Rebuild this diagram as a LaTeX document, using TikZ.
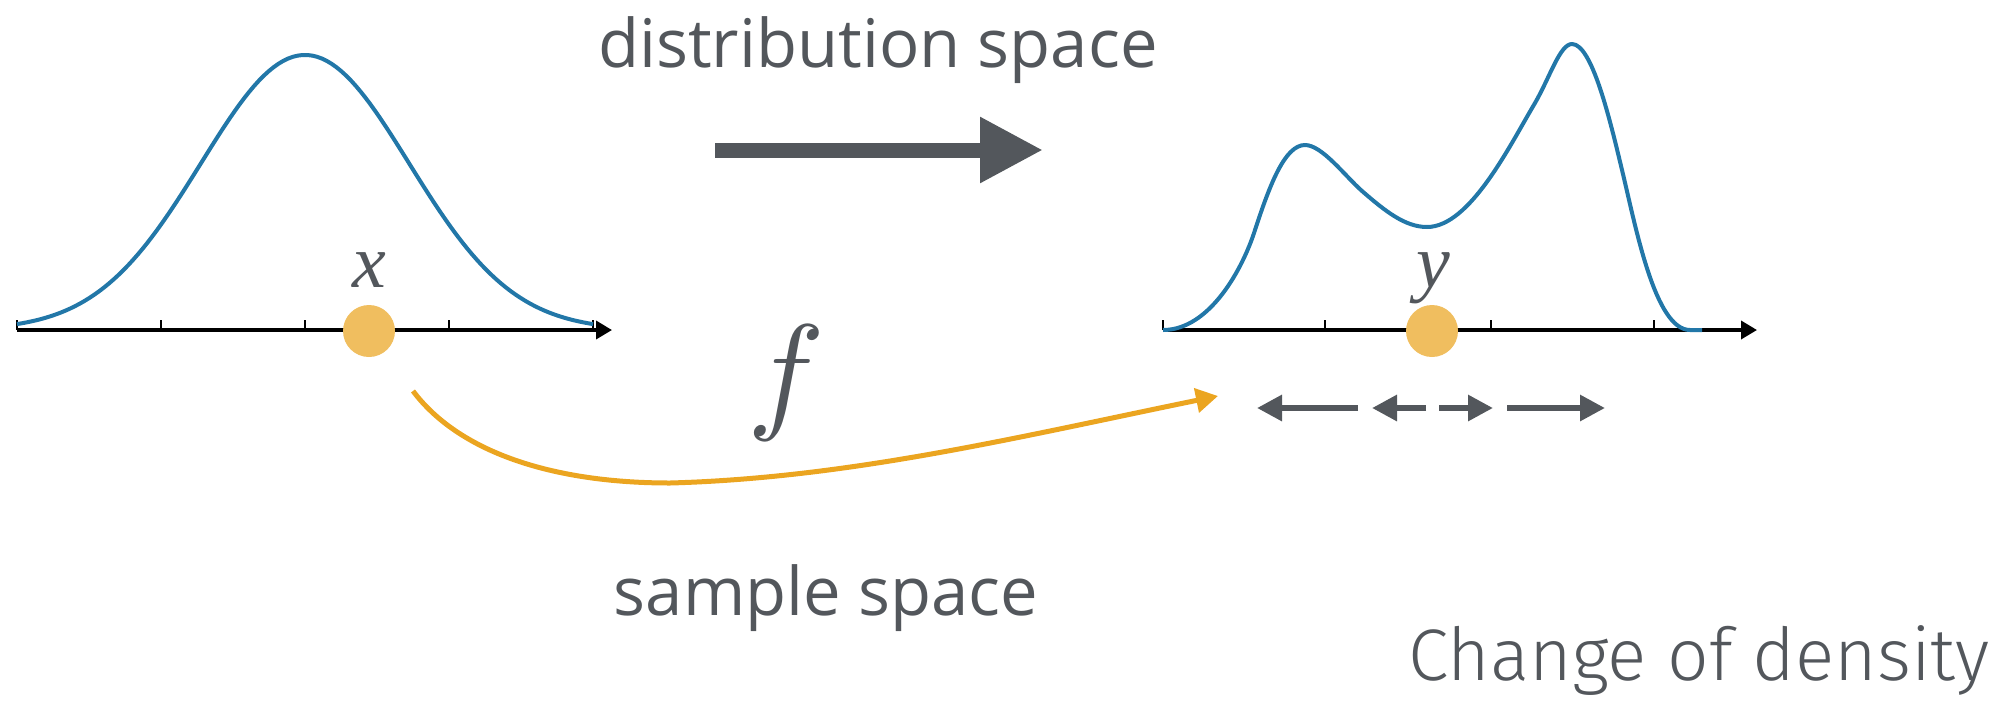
\documentclass[tikz,border=0pt]{standalone}
\usepackage{fontspec}
\setmainfont{Open Sans}
\newfontfamily\lightfont{Fira Sans Light}
\newfontfamily\varfont{Liberation Serif}
\usetikzlibrary{arrows.meta,positioning}

\definecolor{inkgray}{HTML}{53575C}
\definecolor{curveblue}{HTML}{2277A8}
\definecolor{dotyellow}{HTML}{F0BE5F}
\definecolor{mapyellow}{HTML}{EBA520}

\begin{document}
\begin{tikzpicture}[
        x=0.5pt, y=-0.5pt,
        axis/.style={line width=1.8pt, -{Triangle[length=8pt,width=9pt]}},
        axistick/.style={line width=1pt},
        densitycurve/.style={curveblue, line width=2pt, line join=round},
        sampledot/.style={circle, fill=dotyellow, inner sep=0pt, minimum size=26pt},
        spacelabel/.style={text=inkgray, font=\fontsize{33.5}{40}\selectfont, anchor=base},
        varlabel/.style={text=inkgray, font=\varfont\itshape\fontsize{38}{46}\selectfont, anchor=base, inner sep=0pt},
        pusharrow/.style={inkgray, line width=7.5pt, -{Triangle[length=31.5pt,width=31pt]}},
        maparrow/.style={mapyellow, line width=2.5pt, -{Triangle[length=11pt,width=12pt]}},
        spread/.style={inkgray, line width=3pt, -{Triangle[length=12.5pt,width=12.5pt]}}
    ]
    \useasboundingbox (0,0) rectangle (2008,703);

    % source density
    \coordinate (xaxis start) at (17,330);
    \coordinate (xaxis end) at (612,330);
    \draw[axis] (xaxis start) -- (xaxis end);
    \foreach \t in {17,161,305,449,593}
        \draw[axistick] (\t,330) -- (\t,320);
    \draw[densitycurve] plot[domain=17:593, samples=120] (\x, {330-275*exp(-0.5*((\x-305)/104)^2)});
    \node[sampledot] (xdot) at (369,331) {};
    \node[varlabel] (xlabel) at (369,287) {x};

    % target density
    \coordinate (yaxis start) at (1163,330);
    \coordinate (yaxis end) at (1757,330);
    \draw[axis] (yaxis start) -- (yaxis end);
    \foreach \t in {1163,1325,1491,1654}
        \draw[axistick] (\t,330) -- (\t,320);
    \draw[densitycurve] (1163,330)
        .. controls (1210,330) and (1243,268) .. (1255,230)
        .. controls (1270,184) and (1285,145) .. (1305,145)
        .. controls (1322,145) and (1345,176) .. (1362,191)
        .. controls (1385,211) and (1405,227) .. (1427,227)
        .. controls (1470,227) and (1510,145) .. (1535,103)
        .. controls (1550,77) and (1560,44) .. (1572,44)
        .. controls (1592,44) and (1610,120) .. (1622,170)
        .. controls (1636,228) and (1655,330) .. (1690,330) -- (1702,330);
    \node[sampledot] (ydot) at (1432,331) {};
    \node[varlabel] (ylabel) at (1433,287) {y};

    % distribution space
    \node[spacelabel] (distspace) at (878,67) {distribution space};
    \coordinate (push start) at (715,150);
    \coordinate (push end) at (1043,150);
    \draw[pusharrow] (push start) -- (push end);

    % sample space
    \node[text=inkgray, anchor=base, inner sep=0pt, scale=6.5] (fmap) at (786,415) {$f$};
    \coordinate (map start) at (413,391);
    \coordinate (map end) at (1218,396);
    \draw[maparrow] (map start) .. controls (458,451) and (550,483) .. (670,483)
        .. controls (850,478) and (1018,437) .. (map end);
    \foreach \from/\to [count=\i] in {1358/1257, 1426/1372, 1439/1493, 1507/1605} {
        \coordinate (spread\i a) at (\from,408);
        \coordinate (spread\i b) at (\to,408);
        \draw[spread] (spread\i a) -- (spread\i b);
    }
    \node[spacelabel] (samplespace) at (826,615) {sample space};

    \node[text=inkgray, font=\lightfont\fontsize{36.5}{44}\selectfont, anchor=base east, inner sep=0pt] (title) at (1990,680) {Change of density};
\end{tikzpicture}
\end{document}
